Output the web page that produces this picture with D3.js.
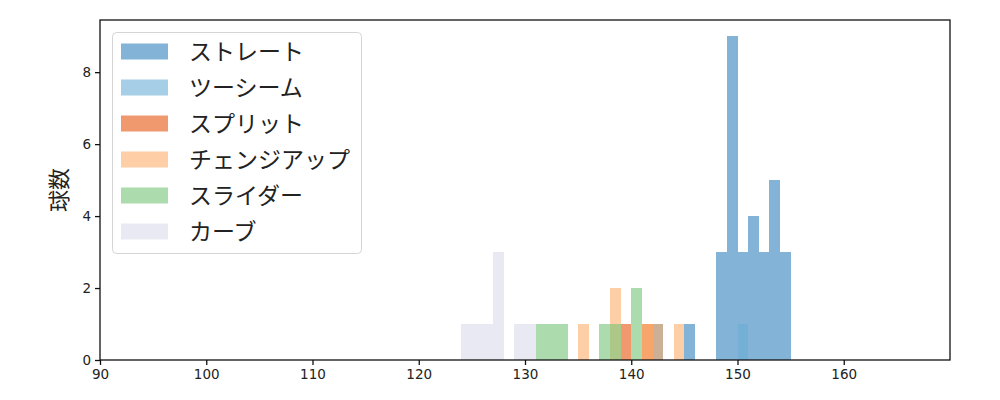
<!DOCTYPE html>
<html>
<head>
<meta charset="utf-8">
<script src="https://cdn.jsdelivr.net/npm/d3@7"></script>
<style>
  body { margin: 0; background: #fff; }
  svg text { font-family: "DejaVu Sans", sans-serif; }
</style>
</head>
<body>
<svg id="chart" width="1000" height="400"></svg>
<script>
// pitch types (legend order = drawing order)
const pitchTypes = ["ストレート", "ツーシーム", "スプリット", "チェンジアップ", "スライダー", "カーブ"];
const pitchColors = ["#3182bd", "#6baed6", "#e6550d", "#fdae6b", "#74c476", "#dadaeb"];

// speed bins (km/h, each bin 1 wide starting at the value) and counts per pitch type
const straightBins   = [142, 145, 148, 149, 150, 151, 152, 153, 154];
const straightCounts = [1,   1,   3,   9,   3,   4,   3,   5,   3];
const twoSeamBins    = [150];
const twoSeamCounts  = [1];
const splitBins      = [139, 141];
const splitCounts    = [1,   1];
const changeupBins   = [135, 138, 141, 142, 144];
const changeupCounts = [1,   2,   1,   1,   1];
const sliderBins     = [131, 132, 133, 137, 138, 140];
const sliderCounts   = [1,   1,   1,   1,   1,   2];
const curveBins      = [124, 125, 126, 127, 129, 130];
const curveCounts    = [1,   1,   1,   3,   1,   1];

const xTicks = [90, 100, 110, 120, 130, 140, 150, 160];
const yTicks = [0, 2, 4, 6, 8];
const yLabel = "球数";

const series = [
  [straightBins, straightCounts],
  [twoSeamBins, twoSeamCounts],
  [splitBins, splitCounts],
  [changeupBins, changeupCounts],
  [sliderBins, sliderCounts],
  [curveBins, curveCounts]
].map(([b, c], i) => ({ name: pitchTypes[i], color: pitchColors[i],
  bars: b.map((x0, j) => ({ x0: x0, x1: x0 + 1, n: c[j] })) }));

const svg = d3.select("#chart");
const mLeft = 100, mRight = 950, mTop = 20, mBottom = 360;
const x = d3.scaleLinear().domain([90, 170]).range([mLeft, mRight]);
const y = d3.scaleLinear().domain([0, 9.45]).range([mBottom, mTop]);

const plot = svg.append("g").attr("shape-rendering", "crispEdges");
series.forEach(s => {
  plot.selectAll(null).data(s.bars).enter().append("rect")
    .attr("x", d => x(d.x0))
    .attr("width", d => x(d.x1) - x(d.x0))
    .attr("y", d => y(d.n))
    .attr("height", d => y(0) - y(d.n))
    .attr("fill", s.color)
    .attr("fill-opacity", 0.6);
});

// axes
const xAxis = svg.append("g").attr("transform", `translate(0,${mBottom})`)
  .call(d3.axisBottom(x).tickValues(xTicks).tickSize(5).tickPadding(4).tickFormat(d3.format("d")));
const yAxis = svg.append("g").attr("transform", `translate(${mLeft},0)`)
  .call(d3.axisLeft(y).tickValues(yTicks).tickSize(5).tickPadding(4).tickFormat(d3.format("d")));
[xAxis, yAxis].forEach(a => {
  a.select(".domain").remove();
  a.selectAll(".tick line").attr("stroke", "#111").attr("stroke-width", 1.3);
  a.selectAll(".tick text").attr("fill", "#222").style("font-size", "13.5px")
    .style("font-family", "'DejaVu Sans', sans-serif");
});

// frame
svg.append("rect").attr("x", mLeft).attr("y", mTop)
  .attr("width", mRight - mLeft).attr("height", mBottom - mTop)
  .attr("fill", "none").attr("stroke", "#111").attr("stroke-width", 1.3);

// y label
svg.append("text")
  .attr("transform", `translate(67,${(mTop + mBottom) / 2}) rotate(-90)`)
  .attr("text-anchor", "middle")
  .style("font-family", "'Noto Sans CJK JP', sans-serif")
  .style("font-size", "22px").attr("fill", "#222")
  .text(yLabel);

// legend
const lg = svg.append("g");
lg.append("rect").attr("x", 112.5).attr("y", 32.5).attr("width", 249).attr("height", 221)
  .attr("rx", 4).attr("fill", "#fff").attr("fill-opacity", 0.8)
  .attr("stroke", "#d5d5d5").attr("stroke-width", 1);
series.forEach((s, i) => {
  const cy = 51.5 + i * 36;
  lg.append("rect").attr("x", 121).attr("y", cy - 8).attr("width", 47).attr("height", 16)
    .attr("fill", s.color).attr("fill-opacity", 0.6);
  lg.append("text").attr("x", 189).attr("y", cy).attr("dy", "0.36em")
    .style("font-family", "'Noto Sans CJK JP', sans-serif")
    .style("font-size", "23px").attr("fill", "#222")
    .text(s.name);
});
</script>
</body>
</html>
